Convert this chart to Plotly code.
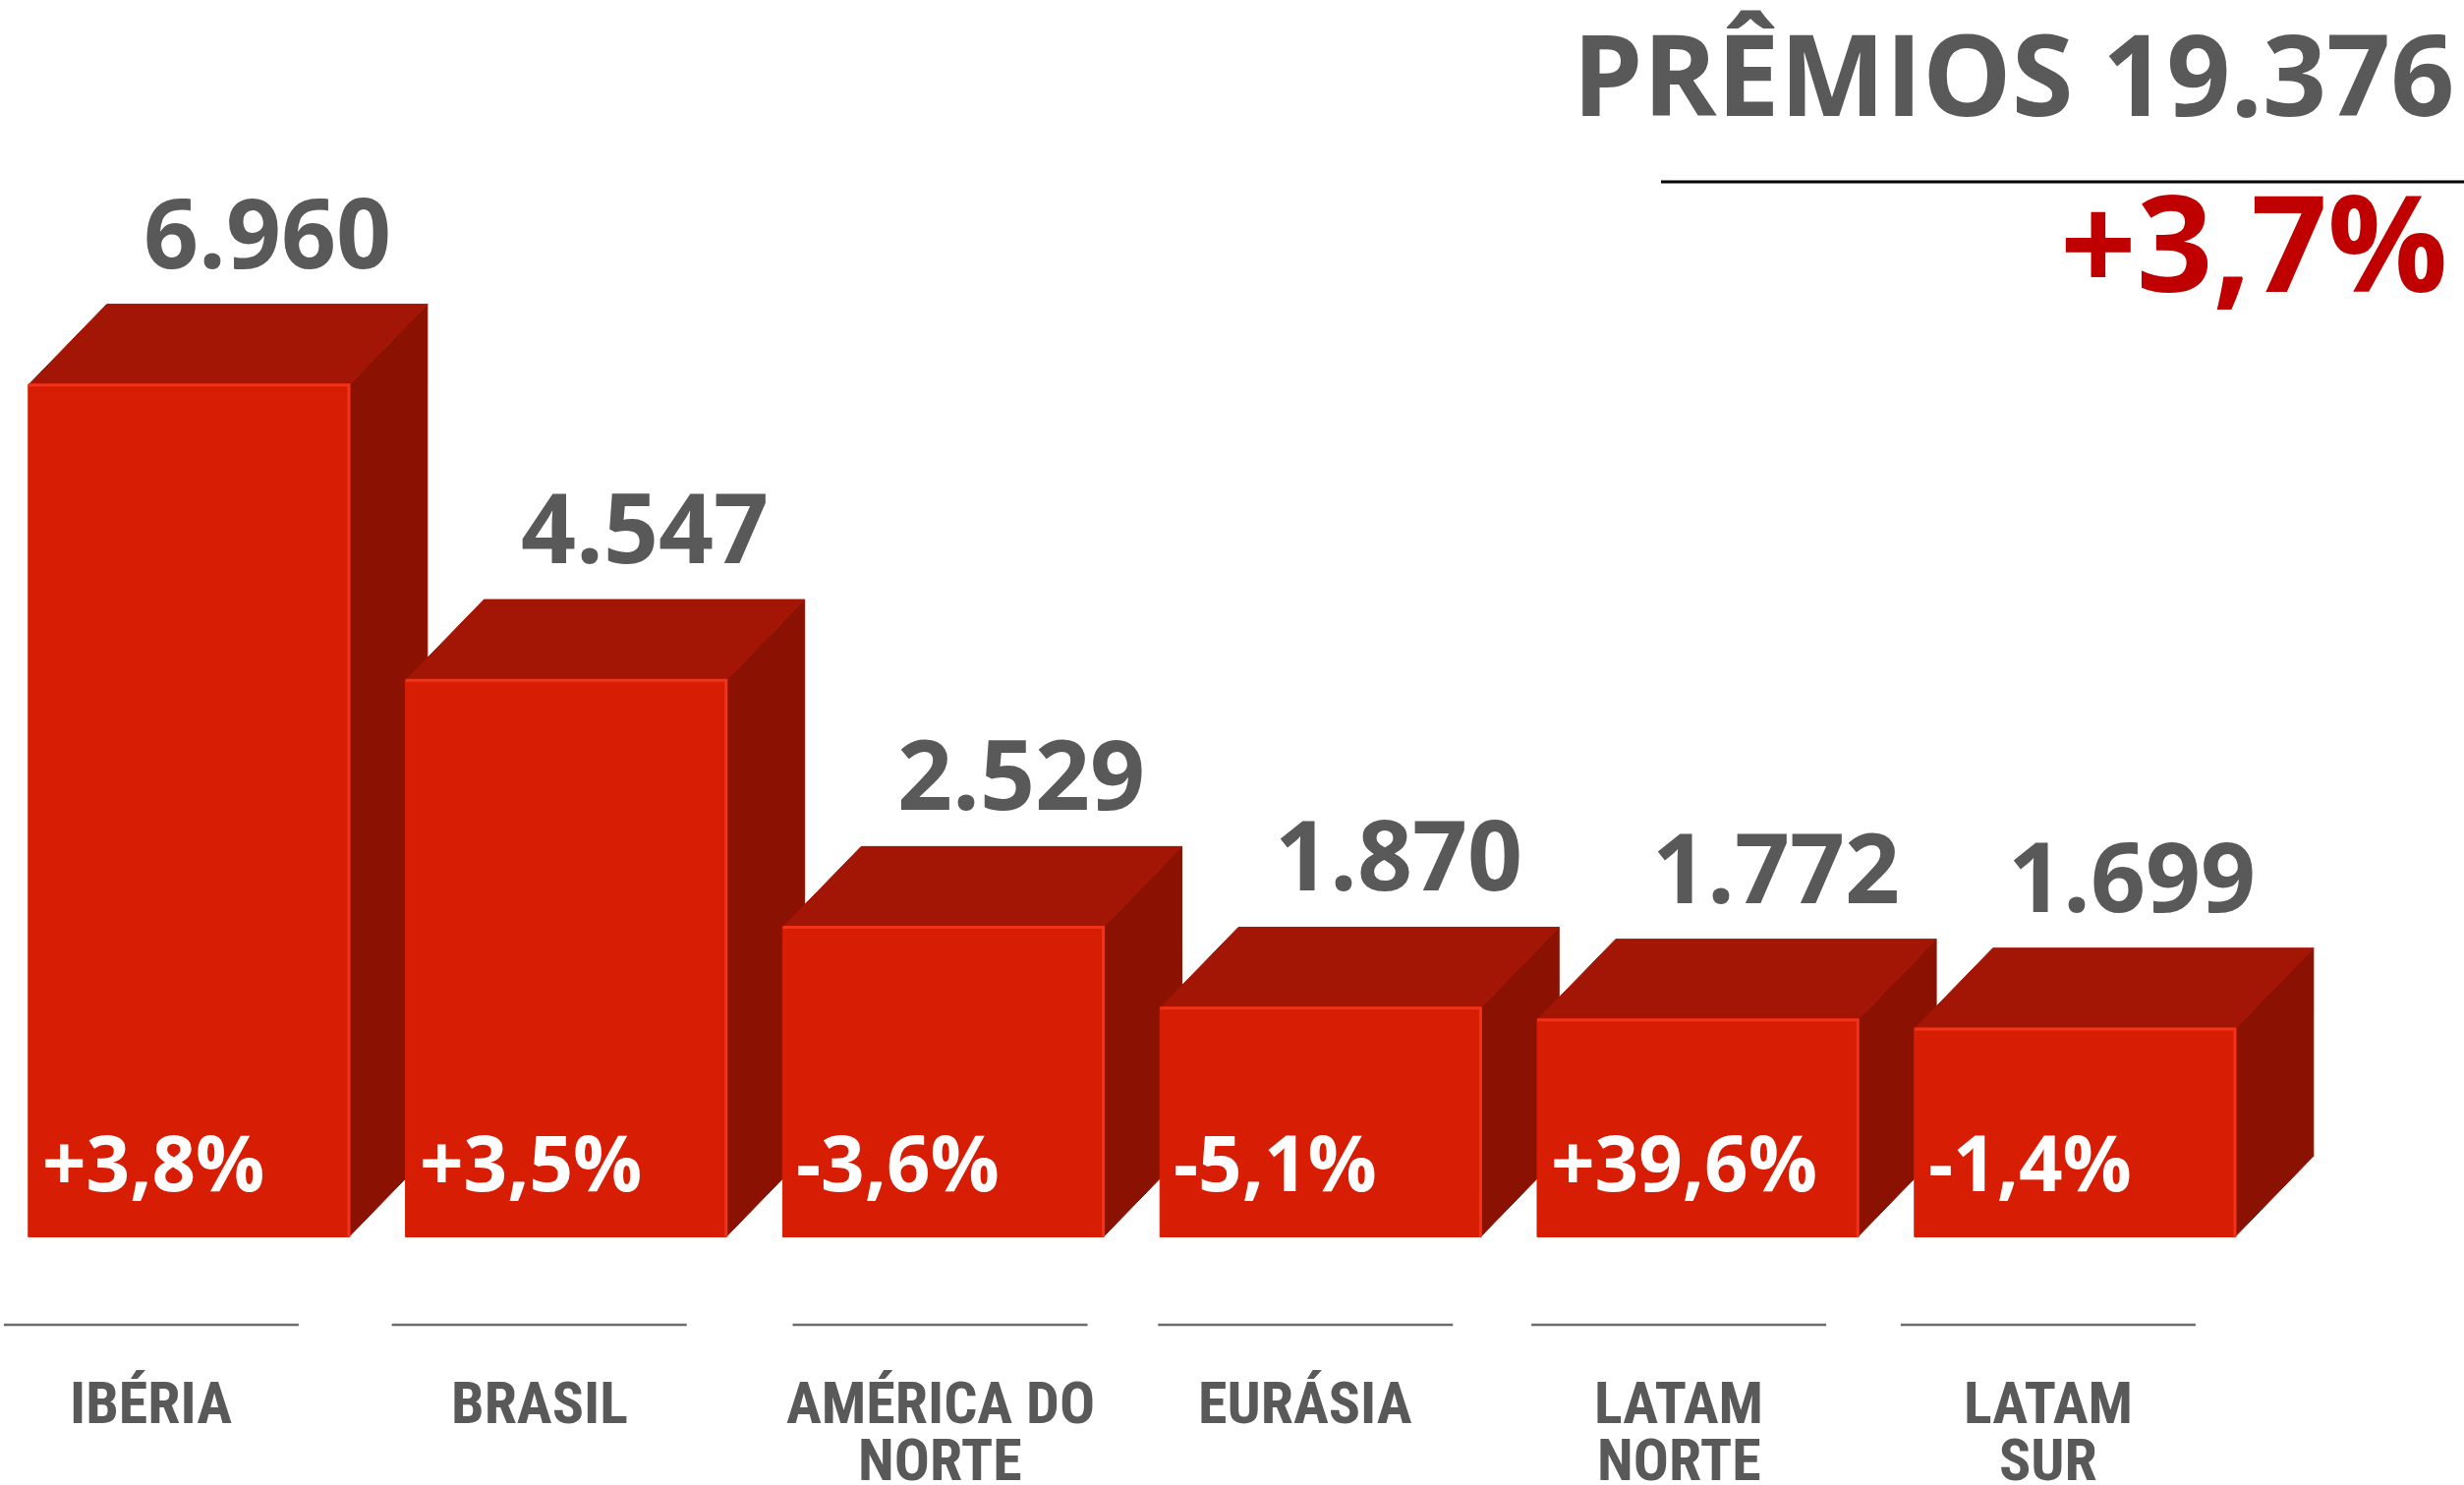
import plotly.graph_objects as go

# ---- data ----
categories = ["IBÉRIA", "BRASIL", "AMÉRICA DO<br>NORTE", "EURÁSIA", "LATAM<br>NORTE", "LATAM<br>SUR"]
premios = [6960, 4547, 2529, 1870, 1772, 1699]
value_labels = ["6.960", "4.547", "2.529", "1.870", "1.772", "1.699"]
growth_labels = ["+3,8%", "+3,5%", "-3,6%", "-5,1%", "+39,6%", "-1,4%"]
total_label = "PRÊMIOS 19.376"
total_growth = "+3,7%"

# ---- layout / style constants ----
W, H = 2507, 1511
PX_PER_CAT = 383.8
PX_PER_UNIT = 0.12453
ZERO_PX = 1258.5
BAR_W = 0.85
DX = 0.208          # depth offset (category units)
DY = 660            # depth offset (value units)
label_xshift = [-38, -27, -3, -15, -19, -27]
value_xshift = [0, 0, 0, 0, 0, -22]
LINE_GAP = 58       # px between category label lines

FRONT = "#d71e05"
TOP = "#a31605"
SIDE = "#8b1202"
HILITE = "#f3321a"
GREY = "#595959"
FONT = "Open Sans, DejaVu Sans, sans-serif"
NARROW = "Liberation Sans Narrow, Roboto Condensed, Roboto, sans-serif"

x_range = [-0.5, -0.5 + W / PX_PER_CAT]
y_range = [-(H - ZERO_PX) / PX_PER_UNIT, ZERO_PX / PX_PER_UNIT]

fig = go.Figure()

def poly(xs, ys, color):
    fig.add_trace(go.Scatter(x=xs + [xs[0]], y=ys + [ys[0]], mode="lines", fill="toself",
                             fillcolor=color, line=dict(color=color, width=1),
                             hoverinfo="skip", showlegend=False))

for i, v in enumerate(premios):
    x0, x1 = i - BAR_W / 2, i + BAR_W / 2
    poly([x1, x1 + DX, x1 + DX, x1], [0, DY, v + DY, v], SIDE)
    poly([x0, x0 + DX, x1 + DX, x1], [v, v + DY, v + DY, v], TOP)
    poly([x0, x1, x1, x0], [0, 0, v, v], FRONT)
    fig.add_trace(go.Scatter(x=[x0, x1, x1], y=[v, v, 0], mode="lines",
                             line=dict(color=HILITE, width=3), hoverinfo="skip", showlegend=False))

annotations = []
shapes = []
for i, v in enumerate(premios):
    annotations.append(dict(x=i + DX, y=v + DY, xref="x", yref="y", text=value_labels[i],
                            showarrow=False, xanchor="center", yanchor="bottom", yshift=6,
                            xshift=value_xshift[i],
                            font=dict(family=FONT, size=98, color=GREY, weight="bold")))
    annotations.append(dict(x=i - BAR_W / 2, y=0, xref="x", yref="y", text=growth_labels[i],
                            showarrow=False, xanchor="left", yanchor="bottom", xshift=12, yshift=22,
                            font=dict(family=FONT, size=78, color="white", weight="bold")))
    for k, line in enumerate(categories[i].split("<br>")):
        annotations.append(dict(x=i, y=1 - 1390 / H, xref="x", yref="paper", text=line,
                                showarrow=False, xanchor="center", yanchor="top",
                                xshift=label_xshift[i], yshift=-k * LINE_GAP,
                                font=dict(family=NARROW, size=60, color=GREY, weight="bold")))
    half = 150 / PX_PER_CAT
    cx = i + label_xshift[i] / PX_PER_CAT
    shapes.append(dict(type="line", xref="x", yref="paper", x0=cx - half, x1=cx + half,
                       y0=1 - 1348 / H, y1=1 - 1348 / H, line=dict(color="#6b6b6b", width=2.5)))

annotations.append(dict(x=1, y=1, xref="paper", yref="paper", text=total_label, showarrow=False,
                        xanchor="right", yanchor="top", xshift=-8, yshift=6,
                        font=dict(family=FONT, size=114, color=GREY, weight="bold")))
annotations.append(dict(x=1, y=1 - 150 / H, xref="paper", yref="paper", text=total_growth, showarrow=False,
                        xanchor="right", yanchor="top", xshift=-14, yshift=0,
                        font=dict(family=FONT, size=136, color="#c00000", weight="bold")))
shapes.append(dict(type="line", xref="paper", yref="paper", x0=1690 / W, x1=1,
                   y0=1 - 185 / H, y1=1 - 185 / H, line=dict(color="black", width=3)))

fig.update_layout(
    width=W, height=H, margin=dict(l=0, r=0, t=0, b=0),
    paper_bgcolor="white", plot_bgcolor="white",
    xaxis=dict(range=x_range, visible=False, fixedrange=True),
    yaxis=dict(range=y_range, visible=False, fixedrange=True),
    annotations=annotations, shapes=shapes, showlegend=False,
)

fig.write_html("out.html", config={"displayModeBar": False},
               post_script="document.body.style.margin='0';")
